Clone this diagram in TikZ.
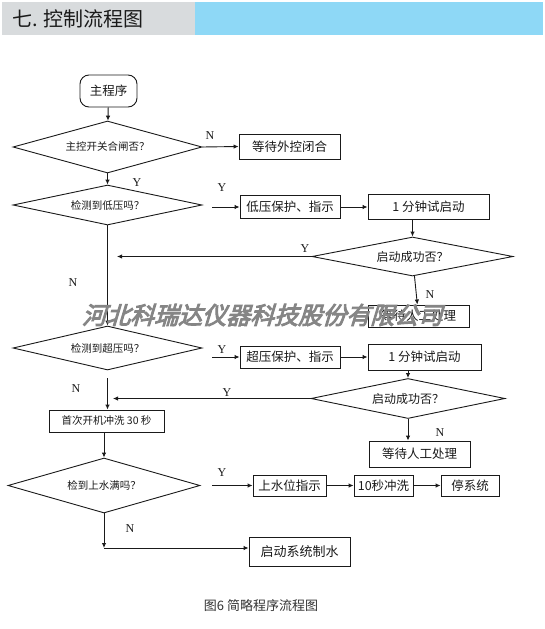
\documentclass[tikz,border=0pt]{standalone}
\usepackage{fontspec}
\setmainfont{Liberation Serif}
\newfontfamily\cjk{Noto Sans CJK SC}
\newfontfamily\wmfont[FakeBold=4,FakeSlant=0.3]{Noto Sans CJK SC}
\usetikzlibrary{shapes.geometric,arrows.meta}
\definecolor{hdrgray}{HTML}{D8DBDD}
\definecolor{hdrblue}{HTML}{8ED8F6}
\definecolor{ink}{HTML}{1A1A1A}
\begin{document}
\begin{tikzpicture}[x=1pt,y=-1pt,
  ln/.style={line width=0.9pt,draw=ink},
  arr/.style={ln,-{Latex[length=5pt,width=4.5pt]}},
  box/.style={draw,ln,rectangle,inner sep=0pt,text=ink,font=\cjk\fontsize{12.5}{14}\selectfont},
  dia/.style={draw,ln,diamond,aspect=3.6,inner sep=0pt,text=ink,font=\cjk\fontsize{10.5}{12}\selectfont},
  yn/.style={inner sep=0pt,text=ink,font=\fontsize{12}{14}\selectfont}]
\useasboundingbox (0,0) rectangle (545,629);
\fill[white] (0,0) rectangle (545,629);
% header
\fill[hdrgray] (2,2) rectangle (195,35);
\fill[hdrblue] (195,2) rectangle (543,35);
\node[anchor=west,inner sep=0pt,text=ink,font=\cjk\fontsize{20}{22}\selectfont] (title) at (12,18.5) {七. 控制流程图};
% nodes
\node[box,rounded corners=9pt,minimum width=57pt,minimum height=32pt] (start) at (108.5,91) {主程序};
\node[dia,minimum width=189pt,minimum height=52pt] (d1) at (107.5,147) {主控开关合闸否？};
\node[box,minimum width=101pt,minimum height=25pt] (b1) at (289.5,146.5) {等待外控闭合};
\node[dia,minimum width=189pt,minimum height=40pt] (d2) at (107.5,205) {检测到低压吗？};
\node[box,minimum width=100pt,minimum height=23pt] (b2) at (290,207) {低压保护、指示};
\node[box,minimum width=121pt,minimum height=25pt] (b3) at (428.5,207) {1 分钟试启动};
\node[dia,minimum width=201pt,minimum height=39pt,font=\cjk\fontsize{12}{14}\selectfont] (d3) at (412.5,256.5) {启动成功否？};
\node[box,minimum width=101pt,minimum height=22pt] (b4) at (418.5,316) {等待人工处理};
\node[dia,minimum width=189pt,minimum height=44pt] (d4) at (107.5,348) {检测到超压吗？};
\node[box,minimum width=100pt,minimum height=22pt] (b5) at (290,357) {超压保护、指示};
\node[box,minimum width=113pt,minimum height=26pt] (b6) at (424.5,357) {1 分钟试启动};
\node[dia,minimum width=194pt,minimum height=40pt,font=\cjk\fontsize{12}{14}\selectfont] (d5) at (408,398.5) {启动成功否？};
\node[box,minimum width=101pt,minimum height=26pt] (b7) at (419.5,454) {等待人工处理};
\node[box,minimum width=115pt,minimum height=22pt,font=\cjk\fontsize{10.5}{12}\selectfont] (b8) at (106.5,421) {首次开机冲洗 30 秒};
\node[dia,minimum width=192pt,minimum height=55pt] (d6) at (104,485.5) {检到上水满吗？};
\node[box,minimum width=73pt,minimum height=21pt] (b9) at (289.5,485.5) {上水位指示};
\node[box,minimum width=59pt,minimum height=21pt] (b10) at (383.5,485.5) {10秒冲洗};
\node[box,minimum width=58pt,minimum height=21pt] (b11) at (470,485.5) {停系统};
\node[box,minimum width=101pt,minimum height=29pt,font=\cjk\fontsize{13}{15}\selectfont] (b12) at (299.5,551.5) {启动系统制水};
% free ends
\coordinate (y2s) at (212,207);
\coordinate (y3e) at (117,256.5);
\coordinate (n4s) at (107.5,378);
\coordinate (y4s) at (212,357);
\coordinate (y5e) at (113,398.5);
\coordinate (y6s) at (212,485.5);
\coordinate (n6c) at (104,548);
% connectors
\draw[arr] (start) -- (d1);
\draw[arr] (d1.east) -- (b1.west);
\draw[arr] (d1) -- (d2);
\draw[arr] (y2s) -- (b2.west);
\draw[arr] (b2) -- (b3);
\draw[arr] (b3.south -| d3.north) -- (d3.north);
\draw[arr] (d3.west) -- (y3e);
\draw[arr] (d3) -- (b4);
\draw[arr] (d2) -- (d4);
\draw[arr] (n4s) -- (b8.north -| n4s);
\draw[arr] (y4s) -- (b5.west);
\draw[arr] (b5) -- (b6);
\draw[arr] (b6.south -| d5.north) -- (d5.north);
\draw[arr] (d5.west) -- (y5e);
\draw[arr] (d5.south) -- (b7.north -| d5.south);
\draw[arr] (b8.south -| d6.north) -- (d6.north);
\draw[arr] (y6s) -- (b9.west);
\draw[arr] (b9) -- (b10);
\draw[arr] (b10) -- (b11);
\draw[arr] (d6.south) -- (n6c);
\draw[arr] (n6c) -- (n6c -| b12.west);
% labels
\node[yn] (l1) at (210,136) {N};
\node[yn] (l2) at (137,183) {Y};
\node[yn] (l3) at (222,188) {Y};
\node[yn] (l4) at (305,249) {Y};
\node[yn] (l5) at (430,295) {N};
\node[yn] (l6) at (73,283) {N};
\node[yn] (l7) at (222,350) {Y};
\node[yn] (l8) at (76,389) {N};
\node[yn] (l9) at (227,393) {Y};
\node[yn] (l10) at (440,433) {N};
\node[yn] (l11) at (222,473) {Y};
\node[yn] (l12) at (130,529) {N};
% watermark
\node[inner sep=0pt,text=black!48,font=\wmfont\fontsize{24}{26}\selectfont] (wm) at (262,315) {河北科瑞达仪器科技股份有限公司};
% caption
\node[inner sep=0pt,text=black!80,font=\cjk\fontsize{13}{15}\selectfont] (cap) at (261,606) {图6 简略程序流程图};
\end{tikzpicture}
\end{document}
